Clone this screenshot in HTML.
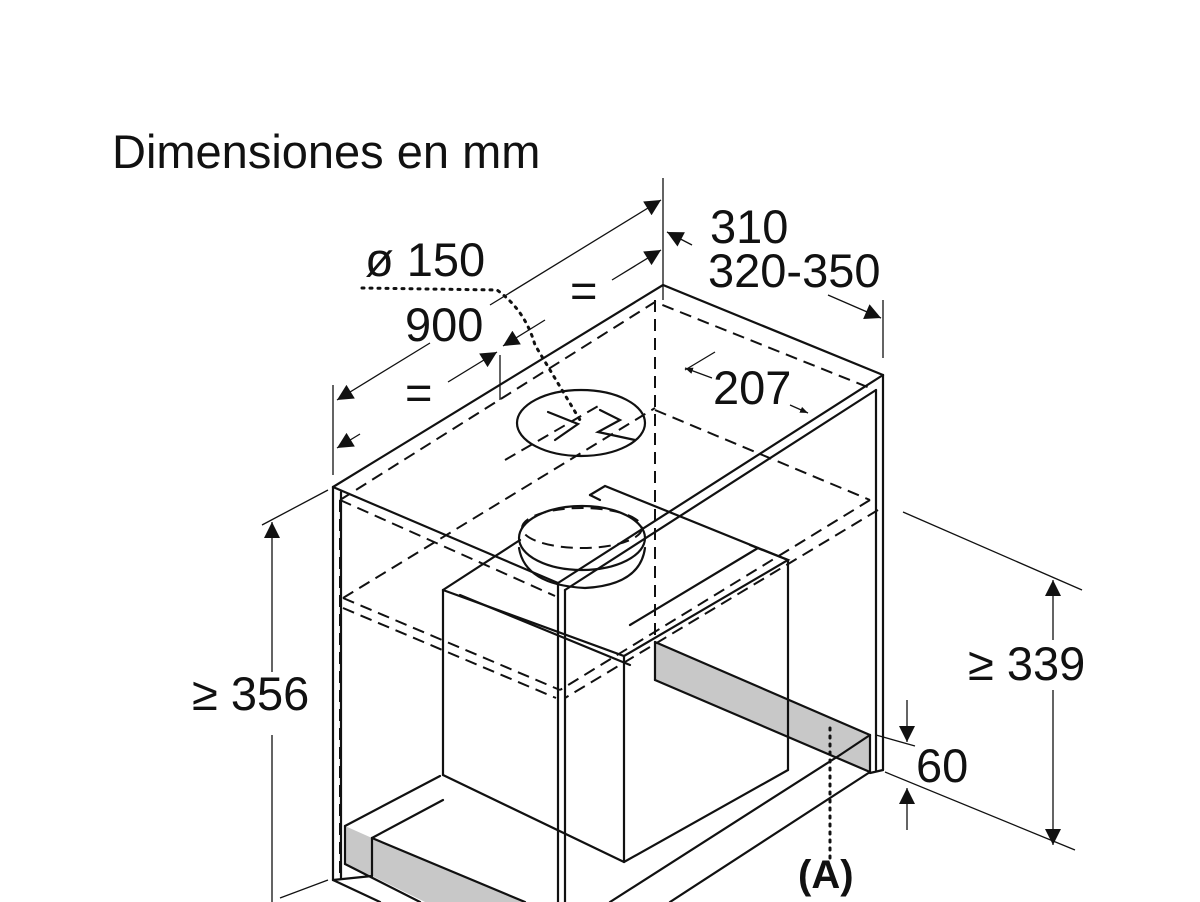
<!DOCTYPE html>
<html><head><meta charset="utf-8"><style>
html,body{margin:0;padding:0;background:#fff;}
svg{display:block}
text{font-family:"Liberation Sans",sans-serif;fill:#111}
</style></head><body>
<svg width="1200" height="902" viewBox="0 0 1200 902" xmlns="http://www.w3.org/2000/svg">
<defs>
<marker id="ah" viewBox="0 0 10 10" refX="10" refY="5" markerWidth="8" markerHeight="8" orient="auto-start-reverse" markerUnits="userSpaceOnUse"><path d="M0,1 L10,5 L0,9 z" fill="#111"/></marker>
<marker id="ahb" viewBox="0 0 10 10" refX="10" refY="5" markerWidth="22" markerHeight="16" orient="auto-start-reverse" markerUnits="userSpaceOnUse"><path d="M0,0 L10,5 L0,10 z" fill="#111"/></marker>
</defs>
<text x="112" y="168" font-size="47">Dimensiones en mm</text>

<!-- gray bands -->
<polygon points="655,642 870,735 870,772 655,680" fill="#c8c8c8"/>
<polygon points="345,826 372,838 372,876 345,864" fill="#c8c8c8"/>
<polygon points="372,838 525,902 425,902 372,876" fill="#c8c8c8"/>

<g stroke="#111" stroke-width="2.2" fill="none" stroke-linecap="round">
<polyline points="333,487 663,285 883,375"/>
<line x1="333" y1="487" x2="333" y2="880"/>
<line x1="341" y1="492" x2="341" y2="878"/>
<line x1="883" y1="375" x2="883" y2="770"/>
<line x1="876" y1="390" x2="876" y2="770"/>
<line x1="883" y1="375" x2="558" y2="583"/>
<line x1="876" y1="390" x2="565" y2="590"/>
<line x1="333" y1="487" x2="558" y2="583"/>
<line x1="558" y1="583" x2="558" y2="902"/>
<line x1="565" y1="590" x2="565" y2="902"/>
<line x1="333" y1="880" x2="380" y2="902"/>
<line x1="333" y1="880" x2="372" y2="876"/>
<line x1="345" y1="826" x2="345" y2="864"/>
<line x1="372" y1="838" x2="372" y2="876"/>
<line x1="345" y1="826" x2="440" y2="776"/>
<line x1="372" y1="838" x2="443" y2="800"/>
<line x1="372" y1="838" x2="525" y2="902"/>
<line x1="345" y1="864" x2="420" y2="902"/>
<line x1="883" y1="770" x2="870" y2="773"/>
<line x1="870" y1="735" x2="870" y2="772"/>
<line x1="870" y1="772" x2="670" y2="902"/>
<line x1="870" y1="735" x2="840" y2="755"/>
<line x1="840" y1="755" x2="610" y2="902"/>
<line x1="655" y1="642" x2="870" y2="735"/>
<line x1="655" y1="642" x2="655" y2="680"/>
<line x1="655" y1="680" x2="870" y2="772"/>
<!-- hood box -->
<line x1="443" y1="590" x2="443" y2="775"/>
<line x1="624" y1="656" x2="624" y2="862"/>
<line x1="788" y1="560" x2="788" y2="770"/>
<polyline points="443,775 624,862 788,770"/>
<polyline points="443,590 624,656 788,560 750,545"/>
<line x1="460" y1="595" x2="630" y2="665"/>
<line x1="443" y1="590" x2="520" y2="540"/>
<polyline points="590,495 605,486 788,560"/>
<line x1="590" y1="495" x2="600" y2="500"/>
<line x1="758" y1="548" x2="630" y2="625"/>
<!-- ellipses -->
<ellipse cx="581" cy="423" rx="64" ry="33"/>
<ellipse cx="582" cy="538" rx="63" ry="32"/>
<path d="M519,548 Q525,585 585,588 Q640,585 645,548"/>
<polyline points="548,412 578,424 555,440"/>
<polyline points="600,410 620,420 598,432 635,440"/>
</g>

<g stroke="#111" stroke-width="2" fill="none" stroke-dasharray="12,7">
<line x1="655" y1="300" x2="655" y2="640"/>
<polyline points="340,500 655,302 870,388"/>
<line x1="340" y1="500" x2="340" y2="880"/>
<line x1="340" y1="500" x2="555" y2="596"/>
<line x1="655" y1="410" x2="870" y2="500"/>
<line x1="870" y1="500" x2="560" y2="690"/>
<line x1="878" y1="510" x2="565" y2="698"/>
<line x1="343" y1="598" x2="560" y2="690"/>
<line x1="343" y1="608" x2="556" y2="698"/>
<line x1="343" y1="598" x2="655" y2="408"/>
<line x1="505" y1="460" x2="600" y2="405"/>
<ellipse cx="582" cy="528" rx="60" ry="20"/>
</g>

<g stroke="#111" stroke-width="3" fill="none" stroke-dasharray="2,6" stroke-linecap="round">
<path d="M362,288 L497,290 Q525,310 535,345 L580,420"/>
<line x1="830" y1="728" x2="830" y2="858"/>
</g>

<g stroke="#111" stroke-width="1.3" fill="none">
<line x1="333" y1="385" x2="333" y2="475"/>
<line x1="663" y1="178" x2="663" y2="300"/>
<line x1="500" y1="355" x2="500" y2="400"/>
<line x1="883" y1="300" x2="883" y2="358"/>
<line x1="337" y1="400" x2="430" y2="343" marker-start="url(#ahb)"/>
<line x1="490" y1="305" x2="661" y2="200" marker-end="url(#ahb)"/>
<line x1="337" y1="448" x2="360" y2="434" marker-start="url(#ahb)"/>
<line x1="448" y1="382" x2="497" y2="352" marker-end="url(#ahb)"/>
<line x1="503" y1="346" x2="545" y2="320" marker-start="url(#ahb)"/>
<line x1="612" y1="280" x2="661" y2="250" marker-end="url(#ahb)"/>
<line x1="692" y1="245" x2="667" y2="232" marker-end="url(#ahb)"/>
<line x1="828" y1="295" x2="881" y2="318" marker-end="url(#ahb)"/>
<line x1="685" y1="370" x2="715" y2="352"/>
<line x1="712" y1="378" x2="685" y2="368" marker-end="url(#ah)"/>
<line x1="790" y1="405" x2="808" y2="413" marker-end="url(#ah)"/>
<line x1="262" y1="525" x2="328" y2="490"/>
<line x1="272" y1="522" x2="272" y2="672" marker-start="url(#ahb)"/>
<line x1="272" y1="735" x2="272" y2="902"/>
<line x1="280" y1="898" x2="328" y2="880"/>
<line x1="903" y1="512" x2="1082" y2="590"/>
<line x1="885" y1="772" x2="1075" y2="850"/>
<line x1="1053" y1="580" x2="1053" y2="640" marker-start="url(#ahb)"/>
<line x1="1053" y1="690" x2="1053" y2="845" marker-end="url(#ahb)"/>
<line x1="907" y1="700" x2="907" y2="742" marker-end="url(#ahb)"/>
<line x1="907" y1="830" x2="907" y2="788" marker-end="url(#ahb)"/>
<line x1="876" y1="735" x2="915" y2="746"/>
</g>

<g font-size="47">
<text x="710" y="243">310</text>
<text x="708" y="287">320-350</text>
<text x="365" y="276">ø 150</text>
<text x="405" y="341">900</text>
<text x="570" y="307">=</text>
<text x="405" y="409">=</text>
<text x="713" y="404">207</text>
<text x="192" y="710">≥ 356</text>
<text x="968" y="680">≥ 339</text>
<text x="916" y="782">60</text>
<text x="798" y="888" font-weight="bold" font-size="40">(A)</text>
</g>
</svg>
</body></html>
